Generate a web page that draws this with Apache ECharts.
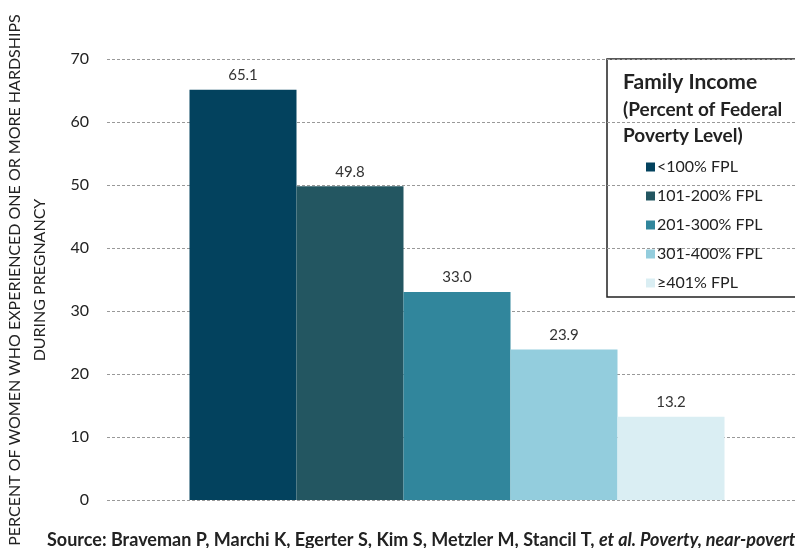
<!DOCTYPE html>
<html><head><meta charset="utf-8">
<script src="https://cdn.jsdelivr.net/npm/echarts@6/dist/echarts.min.js"></script>
<style>html,body{margin:0;padding:0;background:#fff}#c{width:795px;height:548px}</style>
</head><body><div id="c"></div>
<script>
const categories = ['Family Income'];
const seriesNames = ['<100% FPL', '101-200% FPL', '201-300% FPL', '301-400% FPL', '\u2265401% FPL'];
const seriesValues = [65.1, 49.8, 33.0, 23.9, 13.2];
const seriesColors = ['#03425E', '#235661', '#31869C', '#93CDDD', '#DAEEF3'];
const yTicks = [0, 10, 20, 30, 40, 50, 60, 70];

const FONT = 'Lato, "Open Sans", sans-serif';
const chart = echarts.init(document.getElementById('c'));
const series = [{ name: 'spacer', type: 'bar', data: ['-'], barWidth: 12, barGap: '0%', silent: true }].concat(
  seriesNames.map((n, i) => ({
  name: n, type: 'bar', data: [seriesValues[i]], barWidth: 107, barGap: '0%',
  itemStyle: { color: seriesColors[i] },
  label: { show: true, position: 'top', distance: 7, formatter: p => p.value.toFixed(1),
    color: '#333', fontSize: 15, fontFamily: FONT }
})));
chart.setOption({
  animation: false,
  backgroundColor: '#fff',
  grid: { left: 107, right: 0, top: 59, bottom: 48 },
  xAxis: { type: 'category', data: categories, show: false },
  yAxis: { type: 'value', min: yTicks[0], max: yTicks[yTicks.length - 1], interval: 10,
    axisLine: { show: false }, axisTick: { show: false },
    axisLabel: { color: '#222', fontSize: 16, fontFamily: FONT, margin: 18 },
    splitLine: { lineStyle: { color: '#999', type: [3, 2], width: 1 } } },
  legend: { orient: 'vertical', left: 641, top: 154, itemWidth: 9, itemHeight: 9, itemGap: 13,
    icon: 'rect', data: seriesNames,
    textStyle: { fontSize: 16, fontFamily: FONT, color: '#222', padding: [0, 0, 0, -3] } },
  graphic: [
    { type: 'rect', shape: { x: 607, y: 59, width: 200, height: 238 },
      style: { fill: '#fff', stroke: '#222', lineWidth: 1.5 }, z: -1 },
    { type: 'text', left: 623, top: 72, style: { text: 'Family Income', font: 'bold 21px ' + FONT, fill: '#222' } },
    { type: 'text', left: 623, top: 100, style: { text: '(Percent of Federal', font: 'bold 19px ' + FONT, fill: '#222' } },
    { type: 'text', left: 623, top: 126, style: { text: 'Poverty Level)', font: 'bold 19px ' + FONT, fill: '#222' } },
    { type: 'text', x: 15, y: 280, rotation: Math.PI / 2,
      style: { text: 'PERCENT OF WOMEN WHO EXPERIENCED ONE OR MORE HARDSHIPS', font: '16px ' + FONT,
        fill: '#222', align: 'center', verticalAlign: 'middle' } },
    { type: 'text', x: 40, y: 280, rotation: Math.PI / 2,
      style: { text: 'DURING PREGNANCY', font: '16px ' + FONT,
        fill: '#222', align: 'center', verticalAlign: 'middle' } },
    { type: 'text', left: 47, top: 531,
      style: { text: '{b|Source: Braveman P, Marchi K, Egerter S, Kim S, Metzler M, Stancil T, }{i|et al. Poverty, near-poverty, and hardship around the time of pregnancy}',
        rich: { b: { font: 'bold 18px ' + FONT, fill: '#222' }, i: { font: 'italic bold 18px ' + FONT, fill: '#222' } } } }
  ],
  series
});
</script></body></html>
